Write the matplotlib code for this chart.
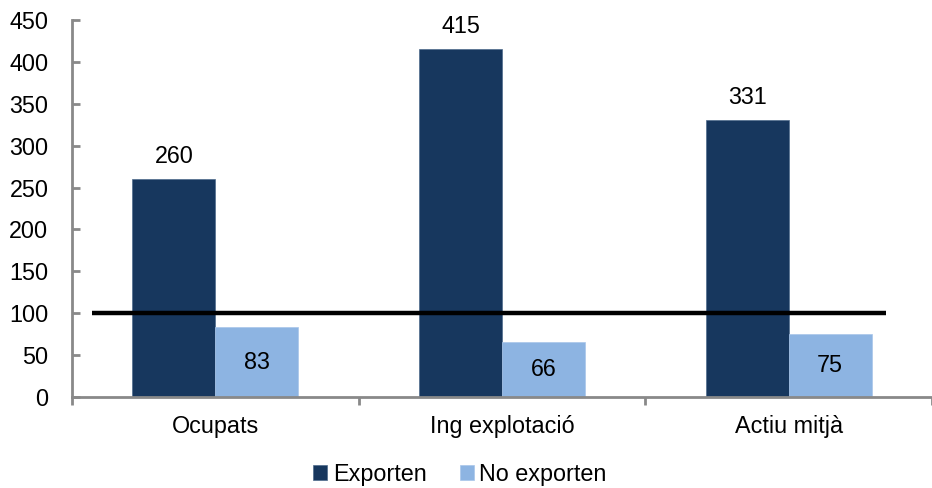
import matplotlib
matplotlib.use("Agg")
import matplotlib.pyplot as plt
import numpy as np

categories = ["Ocupats", "Ing explotació", "Actiu mitjà"]
exporten = [260, 415, 331]
no_exporten = [83, 66, 75]
series_names = ["Exporten", "No exporten"]
reference_value = 100
yticks = [0, 50, 100, 150, 200, 250, 300, 350, 400, 450]

plt.rcParams['font.family'] = ['Liberation Sans', 'DejaVu Sans']

fig = plt.figure(figsize=(9.32, 4.88), dpi=100)
ax = fig.add_axes([72/932, 91/488, 1 - 72/932, 377/488])

dark = "#17375E"
light = "#8DB4E2"
gw = 290.5
w = 84/gw
x = np.arange(len(categories))
fs = 16.8

b1 = ax.bar(x - w/2, exporten, w, color=dark, edgecolor="#4F6B8C", linewidth=0.5, label=series_names[0])
b2 = ax.bar(x + w/2, no_exporten, w, color=light, edgecolor="#A9C6EA", linewidth=0.5, label=series_names[1])

for rect, v in zip(b1, exporten):
    ax.annotate(str(v), (rect.get_x() + rect.get_width()/2, v), xytext=(0, 8),
                textcoords="offset points", ha="center", va="bottom", fontsize=fs)
for rect, v in zip(b2, no_exporten):
    ax.text(rect.get_x() + rect.get_width()/2, v/2, str(v), ha="center", va="center", fontsize=fs)

ax.plot([-0.431, 2.34], [reference_value, reference_value], color="black", linewidth=3.2, solid_capstyle="butt", zorder=5)

ax.set_xlim(-0.5, (932-72)/gw - 0.5)
ax.set_ylim(0, 450)
ax.set_yticks(yticks)
ax.set_xticks(x)
ax.set_xticklabels(categories)
ax.set_xticks([-0.5, 0.5, 1.5, 2.5], minor=True)

for s in ["top", "right"]:
    ax.spines[s].set_visible(False)
for s in ["left", "bottom"]:
    ax.spines[s].set_color("#898989")
    ax.spines[s].set_linewidth(2)

ax.tick_params(axis="y", direction="in", length=6, width=2, color="#898989", labelsize=fs, pad=17)
ax.tick_params(axis="x", which="major", length=0, labelsize=fs, pad=13)
ax.tick_params(axis="x", which="minor", direction="out", length=6, width=2, color="#898989")

leg = fig.legend(handles=[b1, b2], labels=series_names, loc="center", bbox_to_anchor=(460/932, 1 - 474/488),
                 ncol=2, frameon=False, fontsize=fs, handlelength=0.6, handleheight=0.6,
                 handletextpad=0.25, columnspacing=1.4)

fig.savefig("out.png", dpi=100)
